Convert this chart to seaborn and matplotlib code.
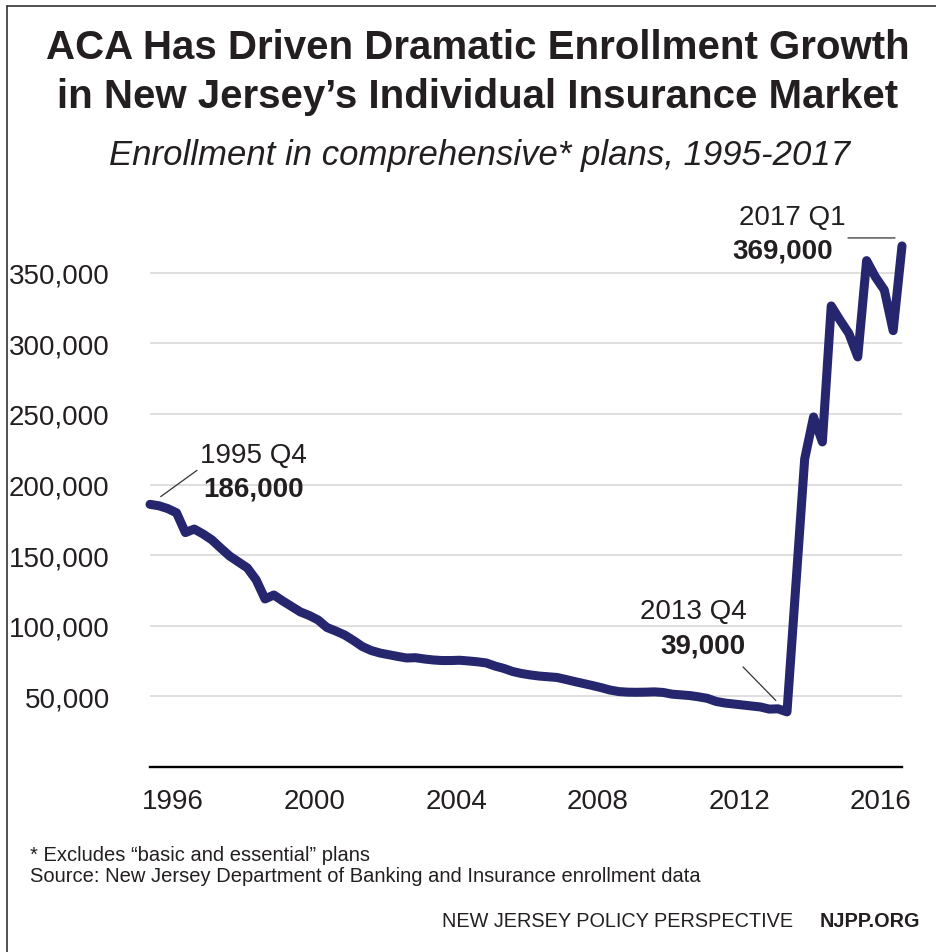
import matplotlib
matplotlib.use("Agg")
import pandas as pd
import matplotlib.pyplot as plt
from matplotlib.ticker import FuncFormatter
from matplotlib.text import OffsetFrom
from matplotlib.lines import Line2D
import seaborn as sns

# quarterly enrollment, 1995 Q4 .. 2017 Q1
quarters = [(1995, 4)] + [(y, q) for y in range(1996, 2017) for q in range(1, 5)] + [(2017, 1)]
enrollment = [
    186000, 185000, 183000, 180000, 166000, 168500, 165000, 160800, 155000, 149400,
    145200, 141000, 132500, 119000, 121800, 117600, 113700, 109800, 107300, 104100,
    98800, 96300, 93500, 89600, 85300, 82500, 80700, 79500, 78300, 77200,
    77400, 76500, 75800, 75400, 75400, 75600, 75100, 74500, 73700, 71500,
    69800, 67600, 66200, 65200, 64400, 63900, 63400, 62000, 60500, 59100,
    57700, 56200, 54500, 53400, 53000, 52900, 53000, 53200, 52800, 51600,
    51100, 50600, 49700, 48600, 46400, 45300, 44600, 43900, 43200, 42500,
    41000, 41200, 39000, 128600, 218100, 247900, 230200, 326500, 316400, 307000,
    290400, 358600, 347000, 337800, 309000, 369000,
]
tick_years = [1996, 2000, 2004, 2008, 2012, 2016]
y_ticks = [50000, 100000, 150000, 200000, 250000, 300000, 350000]

df = pd.DataFrame({
    "label": [f"{y} Q{q}" for y, q in quarters],
    "t": [y + (q - 1) / 4 for y, q in quarters],
    "enrollment": enrollment,
})

NAVY = "#25266e"
INK = "#231f20"

sns.set_theme(style="white")
plt.rcParams["font.family"] = ["Liberation Sans", "DejaVu Sans"]

fig = plt.figure(figsize=(9.37, 9.53), dpi=100)
ax = fig.add_axes([150 / 937, 1 - 768 / 953, 752 / 937, (768 - 231.4) / 953])

sns.lineplot(data=df, x="t", y="enrollment", ax=ax, color=NAVY, linewidth=6.5,
             solid_capstyle="round", solid_joinstyle="round", zorder=3, clip_on=False)

ax.set_xlim(df.t.iloc[0], df.t.iloc[-1])
ax.set_ylim(0, 380000)
ax.set_xticks([y + 0.4 for y in tick_years], [str(y) for y in tick_years])
ax.set_yticks(y_ticks)
ax.yaxis.set_major_formatter(FuncFormatter(lambda v, p: f"{int(v):,}"))
ax.set_xlabel("")
ax.set_ylabel("")
ax.tick_params(axis="y", length=0, pad=29, labelsize=20, labelcolor=INK)
ax.tick_params(axis="x", length=0, pad=15, labelsize=20, labelcolor=INK)
ax.yaxis.grid(True, color="#d9d9d9", lw=1.2)
ax.set_axisbelow(True)
for s in ["top", "right", "left"]:
    ax.spines[s].set_visible(False)
ax.spines["bottom"].set_color("black")
ax.spines["bottom"].set_linewidth(1.7)

# callouts
lead = dict(arrowstyle="-", color="#333333", lw=0.9, shrinkA=0)
first = (df.t.iloc[0], df.enrollment.iloc[0])
low_i = df.enrollment.iloc[:80].idxmin()
low = (df.t[low_i], df.enrollment[low_i])
last = (df.t.iloc[-1], df.enrollment.iloc[-1])

ax.annotate("", xy=first, xytext=(47, 34), textcoords="offset pixels",
            arrowprops=dict(lead, shrinkB=9.5))
ax.annotate(df.label.iloc[0], xy=first, xytext=(50, 49), textcoords="offset pixels",
            ha="left", va="center", fontsize=20, color=INK)
ax.annotate(f"{first[1]:,}", xy=first, xytext=(53, 16), textcoords="offset pixels",
            ha="left", va="center", fontsize=20, fontweight="bold", color=INK)

ax.annotate("", xy=low, xytext=(-44, 45), textcoords="offset pixels",
            arrowprops=dict(lead, shrinkB=11.5))
ax.annotate(df.label[low_i], xy=low, xytext=(-40, 101), textcoords="offset pixels",
            ha="right", va="center", fontsize=20, color=INK)
ax.annotate(f"{low[1]:,}", xy=low, xytext=(-42, 66), textcoords="offset pixels",
            ha="right", va="center", fontsize=20, fontweight="bold", color=INK)

off = OffsetFrom(ax.transData, last, unit="pixels")
ax.annotate("", xy=(-7, 8), xycoords=off, xytext=(-54, 8), textcoords=off,
            arrowprops=dict(lead, shrinkB=0))
ax.annotate(df.label.iloc[-1], xy=last, xytext=(-56, 29), textcoords="offset pixels",
            ha="right", va="center", fontsize=20, color=INK)
ax.annotate(f"{last[1]:,}", xy=last, xytext=(-69, -5), textcoords="offset pixels",
            ha="right", va="center", fontsize=20, fontweight="bold", color=INK)

# titles
fig.text(0.51, 1 - 48 / 953, "ACA Has Driven Dramatic Enrollment Growth", ha="center",
         va="center", fontsize=29, fontweight="bold", color=INK)
fig.text(0.51, 1 - 97 / 953, "in New Jersey\u2019s Individual Insurance Market", ha="center",
         va="center", fontsize=29, fontweight="bold", color=INK)
fig.text(0.512, 1 - 155 / 953, "Enrollment in comprehensive* plans, 1995-2017", ha="center",
         va="center", fontsize=25, fontstyle="italic", color=INK)

# footer
fig.text(30 / 937, 1 - 856 / 953, "* Excludes \u201cbasic and essential\u201d plans",
         ha="left", va="center", fontsize=14.5, color=INK)
fig.text(30 / 937, 1 - 877 / 953,
         "Source: New Jersey Department of Banking and Insurance enrollment data",
         ha="left", va="center", fontsize=14.5, color=INK)
fig.text(793 / 937, 1 - 922 / 953, "NEW JERSEY POLICY PERSPECTIVE", ha="right",
         va="center", fontsize=14.3, color=INK)
fig.text(920 / 937, 1 - 922 / 953, "NJPP.ORG", ha="right", va="center",
         fontsize=14.3, fontweight="bold", color=INK)

# frame lines at the top and left edge
fig.add_artist(Line2D([7 / 937, 1], [1 - 7 / 953, 1 - 7 / 953], color="#333333", lw=1.2))
fig.add_artist(Line2D([7 / 937, 7 / 937], [0, 1 - 7 / 953], color="#333333", lw=1.2))

fig.savefig("out.png", dpi=100)
